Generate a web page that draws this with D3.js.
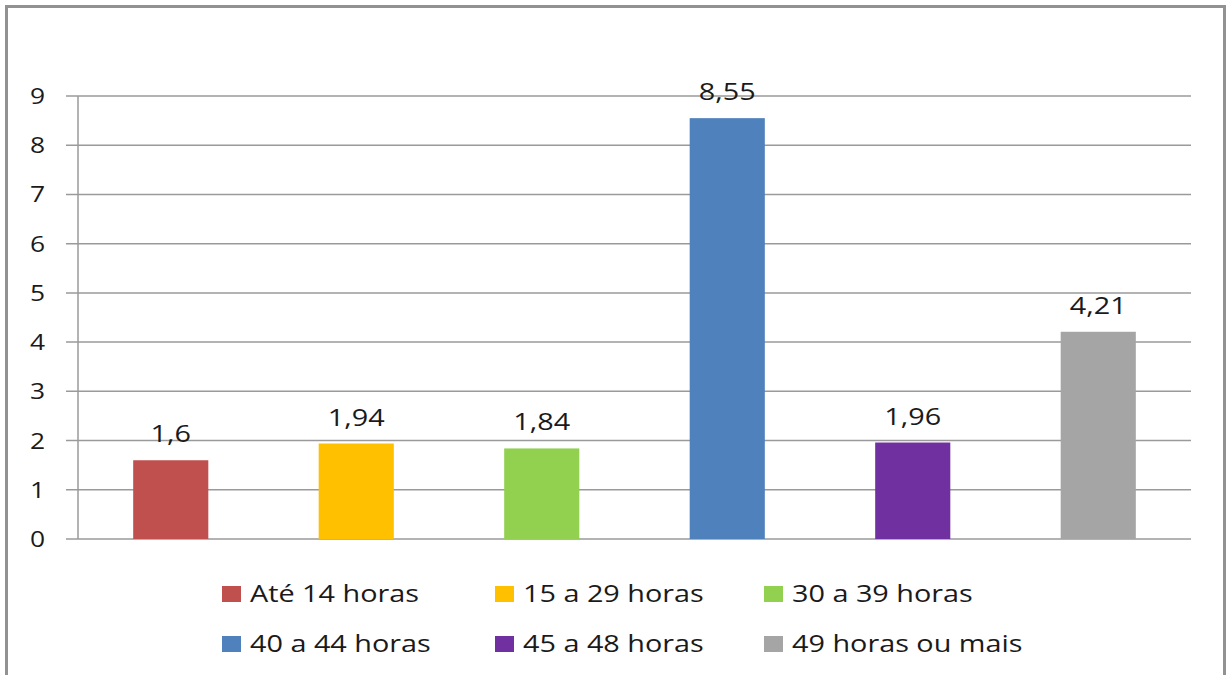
<!DOCTYPE html>
<html><head><meta charset="utf-8">
<script src="https://cdn.jsdelivr.net/npm/d3@7"></script>
<style>html,body{margin:0;padding:0;background:#fff;}svg{display:block;}</style>
</head><body>
<svg id="chart" width="1227" height="675"></svg>
<script>
const categories = ["Até 14 horas","15 a 29 horas","30 a 39 horas","40 a 44 horas","45 a 48 horas","49 horas ou mais"];
const values = [1.6, 1.94, 1.84, 8.55, 1.96, 4.21];
const valueLabels = ["1,6","1,94","1,84","8,55","1,96","4,21"];
const colors = ["#C0504D","#FFC000","#92D050","#4F81BD","#7030A0","#A5A5A5"];
const yTicks = [0,1,2,3,4,5,6,7,8,9];

const svg = d3.select("#chart");
const W = 1227, H = 675;
const font = "'Open Sans', sans-serif";
const SX = 1.2;

// outer frame
svg.append("rect").attr("x",6.5).attr("y",6.5).attr("width",1218).attr("height",H+10)
  .attr("fill","#fff").attr("stroke","#929292").attr("stroke-width",3);

const m = {left:78, right:1191, top:96, bottom:539};
const x = d3.scaleBand().domain(categories).range([m.left, m.right]).paddingInner(0.595).paddingOuter(0.2975);
const y = d3.scaleLinear().domain([0,9]).range([m.bottom, m.top]);

function stext(g, tx, ty, str, size, anchor){
  return g.append("text").attr("transform",`translate(${tx},${ty}) scale(${SX},1)`)
    .attr("font-family",font).attr("font-size",size).attr("fill","#1a1a1a")
    .attr("text-anchor",anchor||"start").text(str);
}

// gridlines
const grid = svg.append("g");
grid.selectAll("line").data(yTicks).join("line")
  .attr("x1", m.left-12).attr("x2", m.right)
  .attr("y1", d=>y(d)).attr("y2", d=>y(d))
  .attr("stroke","#9a9a9a").attr("stroke-width",1.5);

// y axis line
svg.append("line").attr("x1",m.left).attr("x2",m.left).attr("y1",m.top).attr("y2",m.bottom)
  .attr("stroke","#9a9a9a").attr("stroke-width",1.5);

// y tick labels
const yl = svg.append("g");
yTicks.forEach(d=>{ stext(yl, 45, y(d)+8, String(d), 22, "end"); });

// bars
svg.append("g").selectAll("rect").data(values).join("rect")
  .attr("x",(d,i)=>x(categories[i])).attr("width",x.bandwidth())
  .attr("y",d=>y(d)).attr("height",d=>y(0)-y(d))
  .attr("fill",(d,i)=>colors[i]);

// value labels
const vl = svg.append("g");
values.forEach((d,i)=>{ stext(vl, x(categories[i])+x.bandwidth()/2, y(d)-18, valueLabels[i], 24, "middle"); });

// legend
const lg = svg.append("g");
const colX = [222, 495, 764];
const rowY = [594, 644];
categories.forEach((c,i)=>{
  const cx = colX[i%3], cy = rowY[Math.floor(i/3)];
  lg.append("rect").attr("x",cx).attr("y",cy-8).attr("width",19).attr("height",16).attr("fill",colors[i]);
  stext(lg, cx+28, cy+8, c, 24, "start");
});
</script>
</body></html>
